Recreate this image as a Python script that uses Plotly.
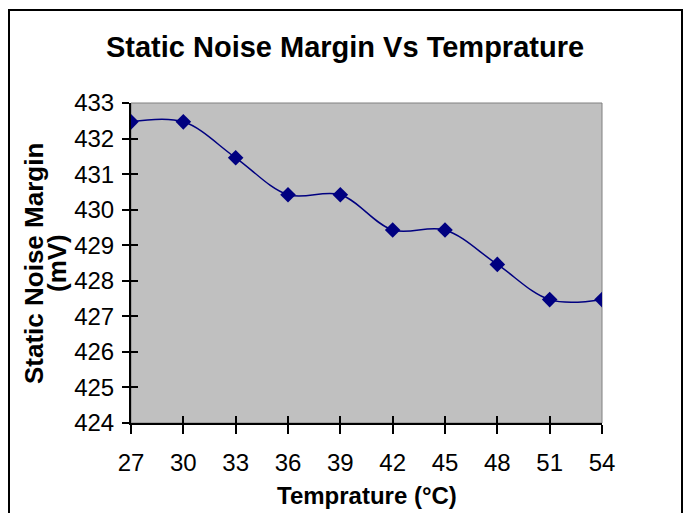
import plotly.graph_objects as go

temps = [27, 30, 33, 36, 39, 42, 45, 48, 51, 54]
snm = [432.47, 432.47, 431.46, 430.42, 430.42, 429.43, 429.43, 428.46, 427.47, 427.47]
x_ticks = [27, 30, 33, 36, 39, 42, 45, 48, 51, 54]
y_ticks = [424, 425, 426, 427, 428, 429, 430, 431, 432, 433]

FONT = "Liberation Sans, Arial, sans-serif"

fig = go.Figure()
fig.add_trace(go.Scatter(
    x=temps, y=snm, mode="lines+markers",
    line=dict(color="#000080", width=1.5, shape="spline", smoothing=1.0),
    marker=dict(symbol="diamond", size=12, color="#000080"),
    showlegend=False,
))
# invisible helper trace so the overlay axes (inner tick halves) are drawn
fig.add_trace(go.Scatter(
    x=temps, y=snm, mode="lines", xaxis="x2", yaxis="y2",
    line=dict(width=0), hoverinfo="skip", showlegend=False,
))

W, H = 689, 513
L, R, T, B = 131, 602, 103, 423
pw, ph = R - L, B - T

fig.update_layout(
    width=W, height=H,
    margin=dict(l=L, r=W - R, t=T, b=H - B),
    paper_bgcolor="white",
    plot_bgcolor="#C0C0C0",
    font=dict(family=FONT, color="black", size=24),
    title=dict(
        text="<b>Static Noise Margin Vs Temprature</b>",
        x=(345 - L) / pw, xref="paper", xanchor="center",
        y=1 - 47 / H, yref="container", yanchor="middle",
        font=dict(family=FONT, size=29, color="black"),
    ),
    xaxis=dict(
        range=[27, 54], tickvals=x_ticks, ticktext=[str(v) for v in x_ticks],
        showgrid=False, zeroline=False,
        showline=True, linecolor="black", linewidth=2,
        ticks="outside", ticklen=9, tickwidth=2, tickcolor="black",
        tickfont=dict(family=FONT, size=24),
        ticklabelstandoff=8,
    ),
    yaxis=dict(
        range=[424, 433], tickvals=y_ticks, ticktext=[str(v) for v in y_ticks],
        showgrid=False, zeroline=False,
        showline=True, linecolor="black", linewidth=2,
        ticks="outside", ticklen=7, tickwidth=2, tickcolor="black",
        tickfont=dict(family=FONT, size=24),
        ticklabelstandoff=3,
    ),
    xaxis2=dict(
        range=[27, 54], tickvals=x_ticks, overlaying="x", anchor="y2", side="bottom",
        showgrid=False, zeroline=False, showline=False,
        ticks="inside", ticklen=7, tickwidth=2, tickcolor="black",
        showticklabels=False,
    ),
    yaxis2=dict(
        range=[424, 433], tickvals=y_ticks, overlaying="y", anchor="x2", side="left",
        showgrid=False, zeroline=False, showline=False,
        ticks="inside", ticklen=7, tickwidth=2, tickcolor="black",
        showticklabels=False,
    ),
    annotations=[
        dict(text="<b>Temprature (°C)</b>", xref="paper", yref="paper",
             x=(367 - L) / pw, y=(B - 495) / ph, xanchor="center", yanchor="middle",
             showarrow=False, font=dict(family=FONT, size=24, color="black")),
        dict(text="<b>Static Noise Margin</b>", xref="paper", yref="paper",
             x=(34 - L) / pw, y=(B - 264) / ph, xanchor="center", yanchor="middle",
             textangle=-90, showarrow=False, font=dict(family=FONT, size=26, color="black")),
        dict(text="<b>(mV)</b>", xref="paper", yref="paper",
             x=(57 - L) / pw, y=(B - 263) / ph, xanchor="center", yanchor="middle",
             textangle=-90, showarrow=False, font=dict(family=FONT, size=26, color="black")),
    ],
    shapes=[
        dict(type="rect", xref="paper", yref="paper", x0=0, x1=1, y0=0, y1=1,
             line=dict(color="#808080", width=1), layer="below"),
        dict(type="rect", xref="paper", yref="paper",
             x0=(9 - L) / pw, x1=(682 - L) / pw,
             y0=(B - 530) / ph, y1=(B - 10) / ph,
             line=dict(color="black", width=2), layer="above"),
    ],
)

fig.write_html("out.html")
